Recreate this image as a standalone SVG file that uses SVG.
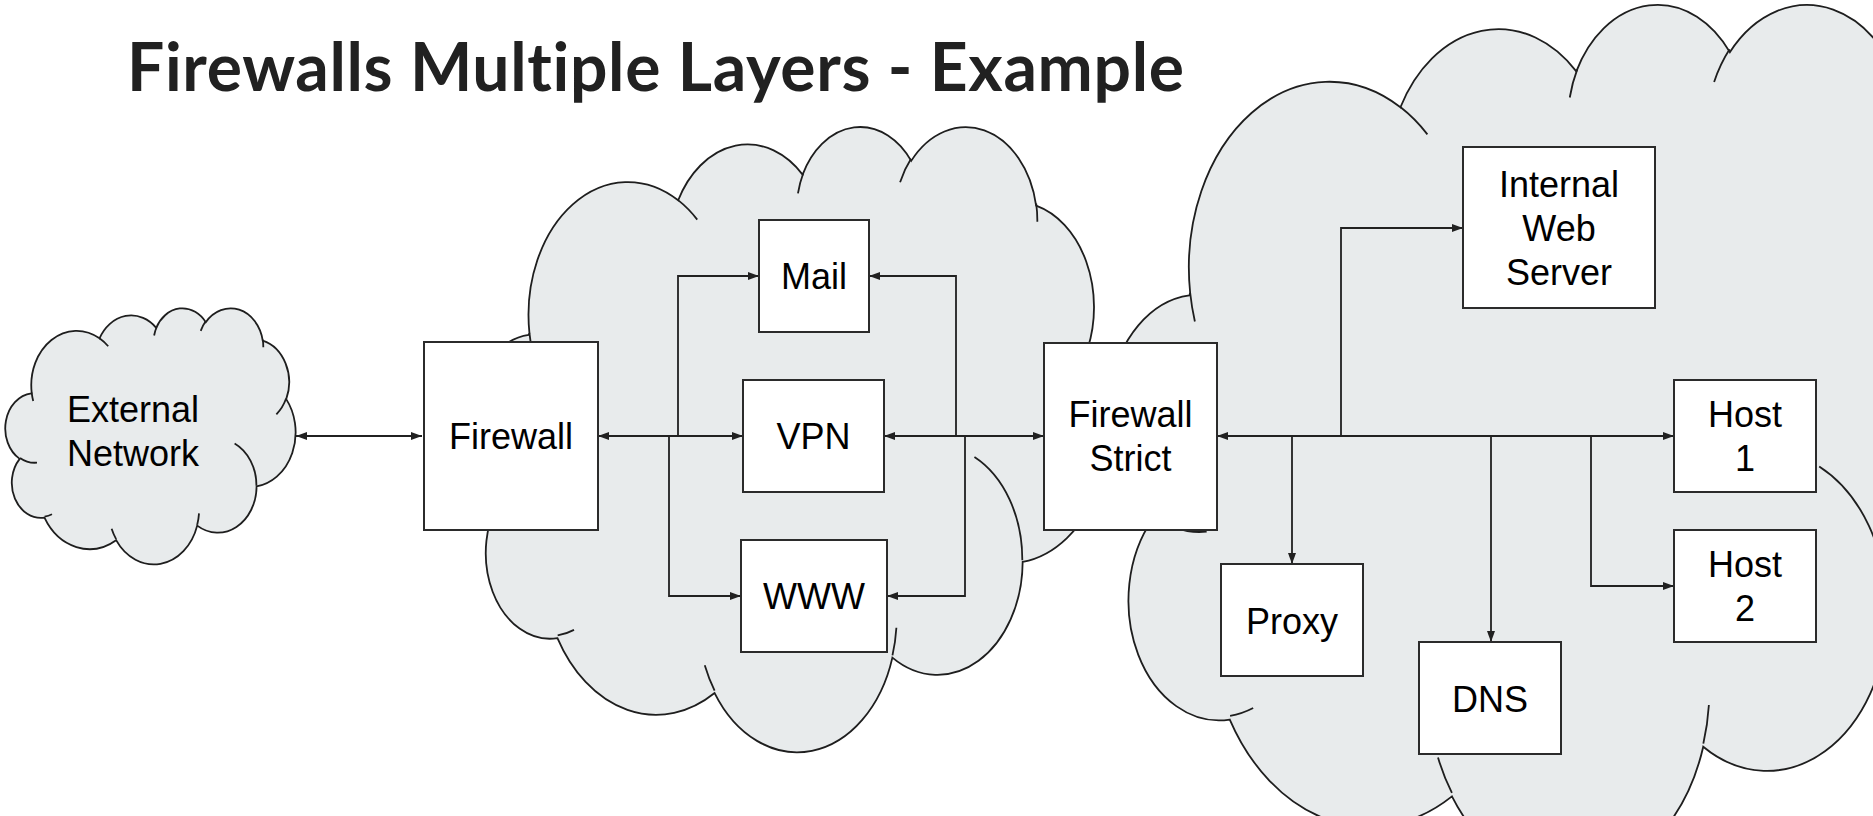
<svg xmlns="http://www.w3.org/2000/svg" width="1873" height="816" viewBox="0 0 1873 816">
<defs>
<style>
.cloud{fill:#e8ebec;stroke:#1e1e1e;stroke-width:1.8}
.carc{fill:none;stroke:#1e1e1e;stroke-width:1.8}
.box{fill:#ffffff;stroke:#2b2b2b;stroke-width:2}
.lbl{font-family:"Liberation Sans",Arial,sans-serif;font-size:36px;fill:#000;text-anchor:middle}
.title{font-family:Lato,"Open Sans",sans-serif;font-weight:700;font-size:66px;fill:#212121;font-variant-ligatures:none}
.conn{fill:none;stroke:#212121;stroke-width:1.8}
</style>
<marker id="arr" viewBox="0 0 11 8" refX="11" refY="4" markerWidth="11" markerHeight="8" markerUnits="userSpaceOnUse" orient="auto-start-reverse">
<path d="M0,0 L11,4 L0,8 Z" fill="#212121"/>
</marker>
<path id="cloudOutline" vector-effect="non-scaling-stroke" d="M3900,14370 A6753,9190 0 0 1 14005,5203 A5333,7267 0 0 1 22457,3430 A4365,5945 0 0 1 29834,2479 A4857,6595 0 0 1 38319,5576 A5333,7273 0 0 1 41819,15460 A6775,9220 0 0 1 37404,30201 A5785,7867 0 0 1 28555,36811 A6752,9215 0 0 1 16480,39263 A7720,10543 0 0 1 5804,35468 A4360,5918 0 0 1 2112,25546 A4345,5945 0 0 1 3862,14502 Z"/>
<path id="cloudArcs" vector-effect="non-scaling-stroke" d="M4693,26177 A4345,5945 0 0 1 2160,25380 M6928,34899 A4360,5918 0 0 1 5819,35281 M16478,39090 A6752,9215 0 0 1 15810,37348 M28827,34751 A6752,9215 0 0 1 28560,36660 M34129,22954 A5785,7867 0 0 1 37379,30089 M41798,15354 A5333,7273 0 0 1 40350,18030 M38324,5426 A4857,6595 0 0 1 38400,6690 M29078,3952 A4857,6595 0 0 1 29821,2337 M22141,4720 A4365,5945 0 0 1 22500,3331 M14000,5192 A6753,9190 0 0 1 15300,6541 M4127,15789 A6753,9190 0 0 1 3900,14370"/>
</defs>
<rect width="1873" height="816" fill="#ffffff"/>

<g id="internal-network-cloud" transform="translate(1109,2) scale(0.020810,0.020231)">
<use href="#cloudOutline" class="cloud"/>
<use href="#cloudArcs" class="carc"/>
</g>
<g id="dmz-cloud" transform="translate(472,125) scale(0.014722,0.014468)">
<use href="#cloudOutline" class="cloud"/>
<use href="#cloudArcs" class="carc"/>
</g>

<text class="title" x="127" y="91" textLength="1057">Firewalls Multiple Layers - Example</text>

<g id="external-network">
<g transform="translate(5.5,307.5) scale(0.0067130,0.0059259)">
<use href="#cloudOutline" class="cloud"/>
<use href="#cloudArcs" class="carc"/>
</g>
<text class="lbl" x="133" y="422">External</text>
<text class="lbl" x="133" y="466">Network</text>
</g>

<g id="connectors">
<path class="conn" d="M296,436 H422" marker-start="url(#arr)" marker-end="url(#arr)"/>
<path class="conn" d="M598,436 H743" marker-start="url(#arr)" marker-end="url(#arr)"/>
<path class="conn" d="M678,436 V276 H759" marker-end="url(#arr)"/>
<path class="conn" d="M669,436 V596 H741" marker-end="url(#arr)"/>
<path class="conn" d="M884,436 H1044" marker-start="url(#arr)" marker-end="url(#arr)"/>
<path class="conn" d="M956,436 V276 H869" marker-end="url(#arr)"/>
<path class="conn" d="M965,436 V596 H887" marker-end="url(#arr)"/>
<path class="conn" d="M1217,436 H1674" marker-start="url(#arr)" marker-end="url(#arr)"/>
<path class="conn" d="M1341,436 V228 H1463" marker-end="url(#arr)"/>
<path class="conn" d="M1292,436 V564" marker-end="url(#arr)"/>
<path class="conn" d="M1491,436 V642" marker-end="url(#arr)"/>
<path class="conn" d="M1591,436 V586 H1674" marker-end="url(#arr)"/>
</g>

<g id="firewall">
<rect class="box" x="424" y="342" width="174" height="188"/>
<text class="lbl" x="511" y="449">Firewall</text>
</g>
<g id="mail">
<rect class="box" x="759" y="220" width="110" height="112"/>
<text class="lbl" x="814" y="289">Mail</text>
</g>
<g id="vpn">
<rect class="box" x="743" y="380" width="141" height="112"/>
<text class="lbl" x="813.5" y="449">VPN</text>
</g>
<g id="www">
<rect class="box" x="741" y="540" width="146" height="112"/>
<text class="lbl" x="814" y="609">WWW</text>
</g>
<g id="firewall-strict">
<rect class="box" x="1044" y="343" width="173" height="187"/>
<text class="lbl" x="1130.5" y="427">Firewall</text>
<text class="lbl" x="1130.5" y="471">Strict</text>
</g>
<g id="internal-web-server">
<rect class="box" x="1463" y="147" width="192" height="161"/>
<text class="lbl" x="1559" y="197">Internal</text>
<text class="lbl" x="1559" y="241">Web</text>
<text class="lbl" x="1559" y="285">Server</text>
</g>
<g id="host1">
<rect class="box" x="1674" y="380" width="142" height="112"/>
<text class="lbl" x="1745" y="427">Host</text>
<text class="lbl" x="1745" y="471">1</text>
</g>
<g id="host2">
<rect class="box" x="1674" y="530" width="142" height="112"/>
<text class="lbl" x="1745" y="577">Host</text>
<text class="lbl" x="1745" y="621">2</text>
</g>
<g id="proxy">
<rect class="box" x="1221" y="564" width="142" height="112"/>
<text class="lbl" x="1292" y="634">Proxy</text>
</g>
<g id="dns">
<rect class="box" x="1419" y="642" width="142" height="112"/>
<text class="lbl" x="1490" y="712">DNS</text>
</g>
</svg>
